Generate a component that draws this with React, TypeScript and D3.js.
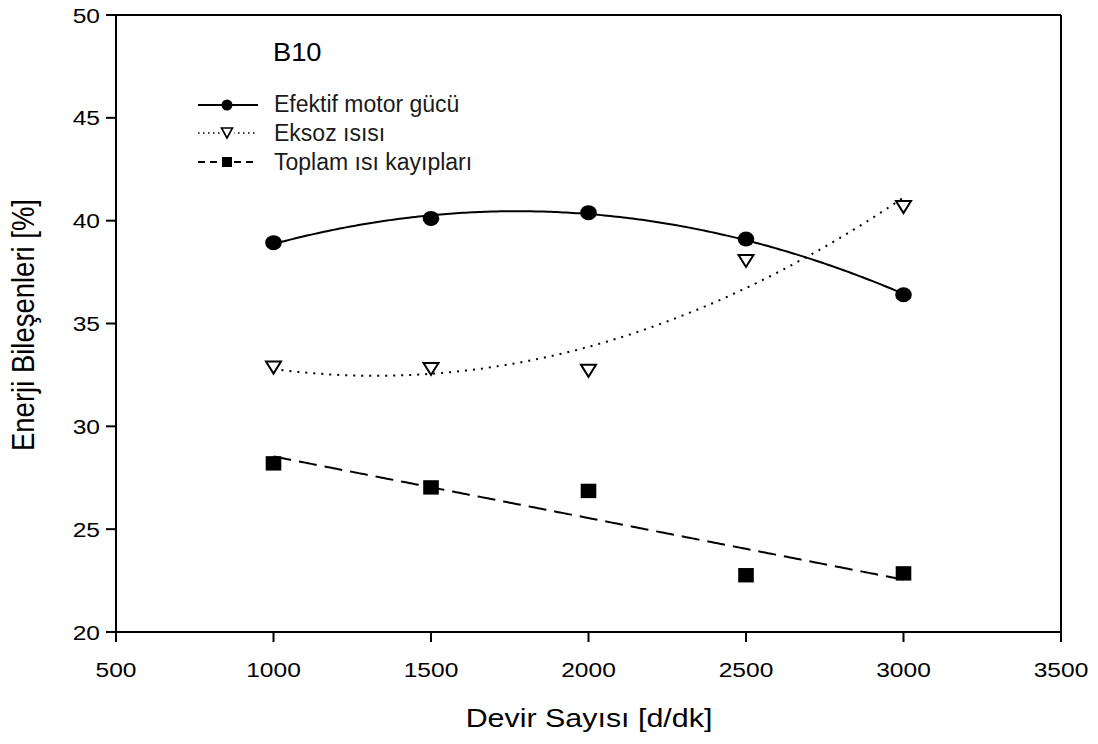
import React from "react";
import * as d3 from "d3";

// Engine speed (rpm) at which each energy component was measured
const speeds = [1000, 1500, 2000, 2500, 3000];
// Energy components [%]
const effectivePower = [38.93, 40.11, 40.39, 39.11, 36.4];
const exhaustHeat = [32.86, 32.79, 32.7, 38.04, 40.66];
const totalHeatLosses = [28.2, 27.03, 26.86, 22.76, 22.85];

const xTicks = [500, 1000, 1500, 2000, 2500, 3000, 3500];
const yTicks = [20, 25, 30, 35, 40, 45, 50];

const seriesNames = ["Efektif motor gücü", "Eksoz ısısı", "Toplam ısı kayıpları"];
const panelLabel = "B10";
const xTitle = "Devir Sayısı [d/dk]";
const yTitle = "Enerji Bileşenleri [%]";

const W = 1098;
const H = 744;
const FONT = "'Liberation Sans', Arial, Helvetica, sans-serif";
const SX = 1.17; // horizontal glyph stretch of the axis texts

// Least-squares polynomial fit (normal equations, x in thousands)
function polyFit(xs: number[], ys: number[], deg: number): (x: number) => number {
  const n = deg + 1;
  const A: number[][] = Array.from({ length: n }, () => new Array(n + 1).fill(0));
  xs.forEach((xv, k) => {
    const t = xv / 1000;
    for (let i = 0; i < n; i++) {
      for (let j = 0; j < n; j++) A[i][j] += Math.pow(t, i + j);
      A[i][n] += Math.pow(t, i) * ys[k];
    }
  });
  for (let c = 0; c < n; c++) {
    let p = c;
    for (let r = c + 1; r < n; r++) if (Math.abs(A[r][c]) > Math.abs(A[p][c])) p = r;
    [A[c], A[p]] = [A[p], A[c]];
    for (let r = 0; r < n; r++) {
      if (r === c) continue;
      const f = A[r][c] / A[c][c];
      for (let k = c; k <= n; k++) A[r][k] -= f * A[c][k];
    }
  }
  const coef = A.map((row, i) => row[n] / row[i]);
  return (x: number) => {
    const t = x / 1000;
    return coef.reduce((s, c, i) => s + c * Math.pow(t, i), 0);
  };
}

export default function App() {
  const x = d3.scaleLinear().domain([500, 3500]).range([116, 1061]);
  const y = d3.scaleLinear().domain([20, 50]).range([632, 15]);

  const samples = d3.range(0, 201).map((i) => speeds[0] + (i / 200) * (speeds[speeds.length - 1] - speeds[0]));
  const line = d3
    .line<[number, number]>()
    .x((d) => x(d[0]))
    .y((d) => y(d[1]));

  const fitPower = polyFit(speeds, effectivePower, 2);
  const fitExhaust = polyFit(speeds, exhaustHeat, 2);
  const fitLosses = polyFit(speeds, totalHeatLosses, 1);

  const curve = (f: (v: number) => number) => line(samples.map((s) => [s, f(s)] as [number, number])) || "";

  const tri = (cx: number, cy: number, w: number, h: number) =>
    `M${cx - w / 2},${cy - h / 2}L${cx + w / 2},${cy - h / 2}L${cx},${cy + h / 2}Z`;

  const legendRows = [103, 132, 161];
  const lx0 = 198;
  const lx1 = 258;
  const lm = 227;

  return (
    <div style={{ position: "absolute", left: 0, top: 0, width: W, height: H, background: "#fff" }}>
      <svg width={W} height={H} style={{ display: "block" }} fontFamily={FONT}>
        <rect x={0} y={0} width={W} height={H} fill="#fff" />

        {/* fitted curves */}
        <path d={curve(fitPower)} fill="none" stroke="#000" strokeWidth={2} />
        <path d={curve(fitExhaust)} fill="none" stroke="#000" strokeWidth={2} strokeDasharray="2 6" />
        <path d={curve(fitLosses)} fill="none" stroke="#000" strokeWidth={2} strokeDasharray="18 8" />

        {/* markers */}
        {speeds.map((s, i) => (
          <ellipse key={"c" + i} cx={x(s)} cy={y(effectivePower[i])} rx={8.3} ry={7.5} fill="#000" />
        ))}
        {speeds.map((s, i) => (
          <path key={"t" + i} d={tri(x(s), y(exhaustHeat[i]), 15, 12)} fill="#fff" stroke="#000" strokeWidth={2} />
        ))}
        {speeds.map((s, i) => (
          <rect key={"s" + i} x={x(s) - 7.8} y={y(totalHeatLosses[i]) - 7.2} width={15.6} height={14.4} fill="#000" />
        ))}

        {/* frame */}
        <line x1={x(500)} x2={x(3500)} y1={y(50)} y2={y(50)} stroke="#000" strokeWidth={2} />
        <line x1={x(3500)} x2={x(3500)} y1={y(50)} y2={y(20)} stroke="#000" strokeWidth={2} />
        <line x1={x(500)} x2={x(3500)} y1={y(20)} y2={y(20)} stroke="#000" strokeWidth={2} />
        <line x1={x(500)} x2={x(500)} y1={y(50)} y2={y(20)} stroke="#000" strokeWidth={2} />

        {/* x axis ticks and labels */}
        {xTicks.map((t) => (
          <g key={"xt" + t}>
            <line x1={x(t)} x2={x(t)} y1={y(20)} y2={y(20) + 10} stroke="#000" strokeWidth={2} />
            <text transform={`translate(${x(t)},677) scale(${SX},1)`} textAnchor="middle" fontSize={21} fill="#000">
              {t}
            </text>
          </g>
        ))}

        {/* y axis ticks and labels */}
        {yTicks.map((t) => (
          <g key={"yt" + t}>
            <line x1={x(500) - 10} x2={x(500)} y1={y(t)} y2={y(t)} stroke="#000" strokeWidth={2} />
            <text transform={`translate(100,${y(t) + 7.5}) scale(${SX},1)`} textAnchor="end" fontSize={21} fill="#000">
              {t}
            </text>
          </g>
        ))}

        {/* axis titles */}
        <text transform={`translate(589,727) scale(${SX},1)`} textAnchor="middle" fontSize={26} fill="#000">
          {xTitle}
        </text>
        <text transform={`translate(34,325) rotate(-90) scale(1,${SX})`} textAnchor="middle" fontSize={27.5} fill="#000">
          {yTitle}
        </text>

        {/* panel label */}
        <text transform={`translate(273,61) scale(1.05,1)`} fontSize={26} fill="#000">
          {panelLabel}
        </text>

        {/* legend */}
        <g>
          <line x1={lx0} x2={lx1} y1={legendRows[0] + 2} y2={legendRows[0] + 2} stroke="#000" strokeWidth={2} />
          <ellipse cx={lm} cy={legendRows[0] + 2} rx={5.5} ry={5.5} fill="#000" />

          <line x1={lx0} x2={lx1} y1={legendRows[1] + 1} y2={legendRows[1] + 1} stroke="#000" strokeWidth={1.5} strokeDasharray="1.5 3.5" />
          <rect x={lm - 7} y={legendRows[1] - 6} width={14} height={13} fill="#fff" />
          <path d={tri(lm, legendRows[1] + 1, 11, 10)} fill="#fff" stroke="#000" strokeWidth={1.6} />

          <line x1={lx0} x2={lx1} y1={legendRows[2] + 1} y2={legendRows[2] + 1} stroke="#000" strokeWidth={2} strokeDasharray="7 5" />
          <rect x={lm - 7} y={legendRows[2] - 5} width={14} height={12} fill="#fff" />
          <rect x={lm - 5} y={legendRows[2] - 4} width={10} height={10} fill="#000" />

          {seriesNames.map((name, i) => (
            <text key={name} x={274} y={legendRows[i] + 8.5} fontSize={23} fill="#1a1a1a">
              {name}
            </text>
          ))}
        </g>
      </svg>
    </div>
  );
}
